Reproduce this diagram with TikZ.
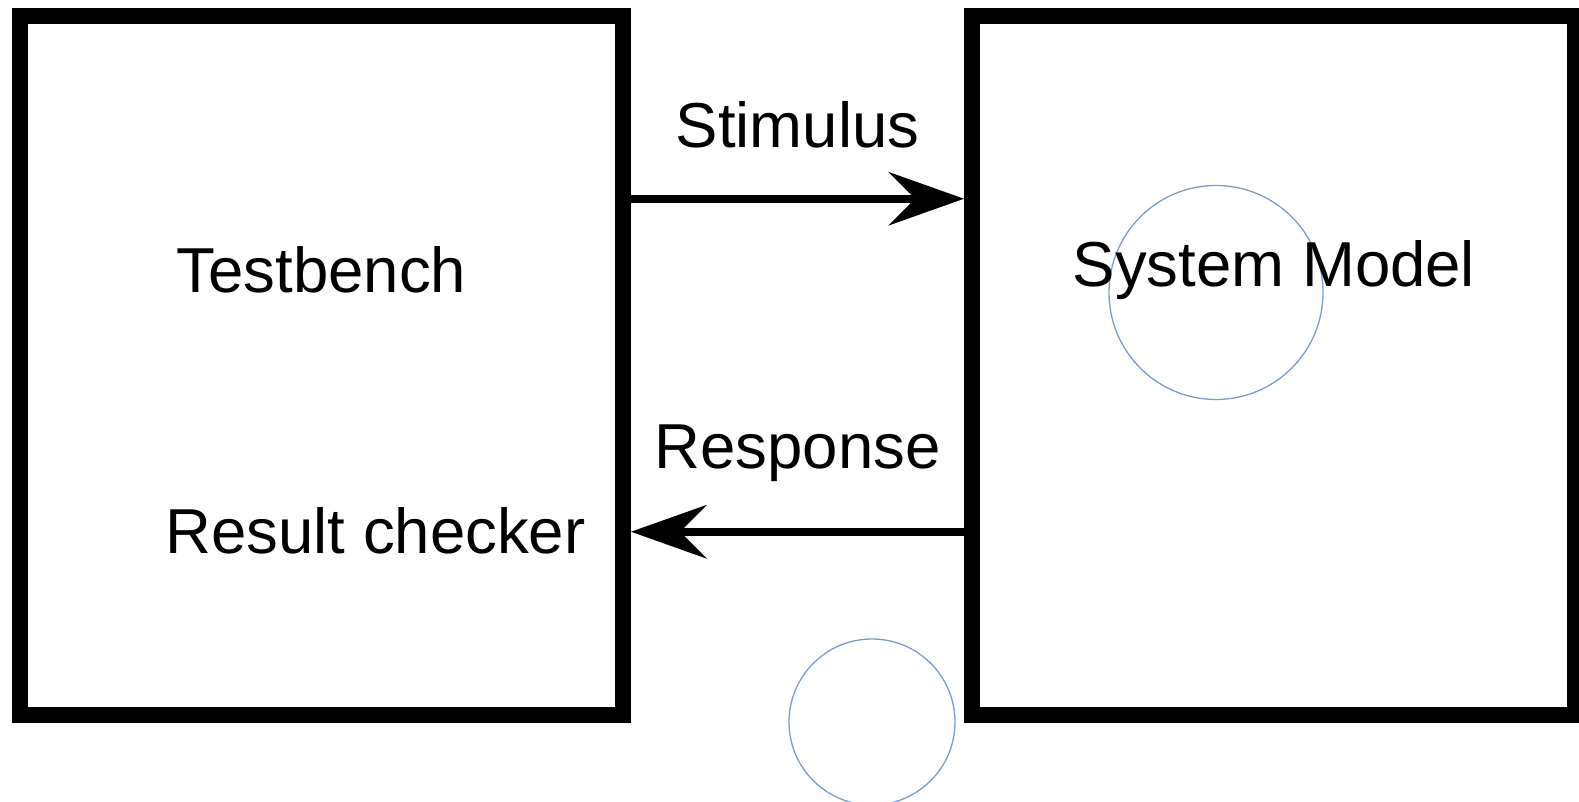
\documentclass[tikz,border=0pt]{standalone}
\usepackage{fontspec}
\setmainfont{Liberation Sans}
\usetikzlibrary{arrows.meta}
\definecolor{circblue}{HTML}{7C9CC6}
\begin{document}
\begin{tikzpicture}[x=1pt,y=1pt,
  bigbox/.style={draw=black,line width=16pt,rectangle,inner sep=0pt,
    minimum width=603pt,minimum height=698.5pt},
  lbl/.style={anchor=base,inner sep=0pt,font=\fontsize{63.5}{76}\selectfont},
  ring/.style={draw=circblue,line width=1.3pt,circle,inner sep=0pt},
  flow/.style={line width=8pt,-{Stealth[length=76pt,width=54pt,inset=27pt,line width=0pt]}}]
\useasboundingbox (0,0) rectangle (1579,-802);
\node[bigbox] (lb) at (321.5,-365.25) {};
\node[bigbox] (rb) at (1273.5,-365.25) {};
\node[ring,minimum size=214pt] (c1) at (1216,-292.5) {};
\node[ring,minimum size=166pt] (c2) at (872,-722) {};
\node[lbl] (tb) at (321.5,-292) {Testbench};
\node[lbl] (rc) at (375.5,-553) {Result checker};
\node[lbl] (sm) at (1274,-287) {System Model};
\node[lbl] (st) at (797.5,-148) {Stimulus};
\node[lbl] (rs) at (797.5,-468) {Response};
\draw[flow] ([yshift=166.5pt]lb.east) -- ([yshift=166.5pt]rb.west);
\draw[flow] ([yshift=-166.5pt]rb.west) -- ([yshift=-166.5pt]lb.east);
\end{tikzpicture}
\end{document}
